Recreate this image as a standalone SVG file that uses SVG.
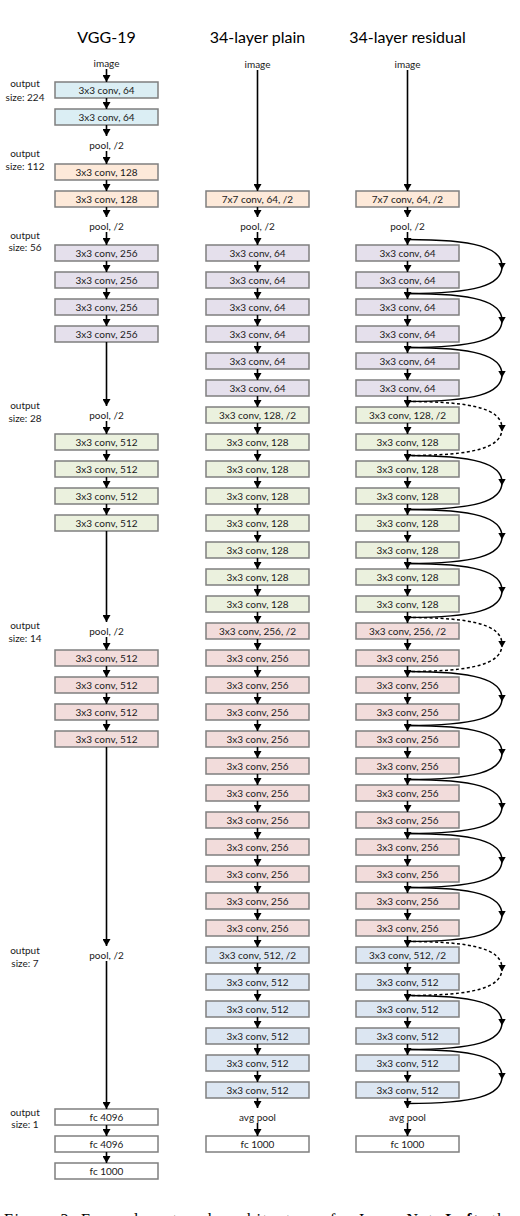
<svg xmlns="http://www.w3.org/2000/svg" width="520" height="1216" viewBox="0 0 520 1216">
<style>
.title{font-family:Lato,"Liberation Sans",sans-serif;font-size:16px;text-anchor:middle;fill:#000}
.t{font-family:Lato,"Liberation Sans",sans-serif;font-size:10px;text-anchor:middle;fill:#1a1a1a}
.o{font-family:Lato,"Liberation Sans",sans-serif;font-size:10px;text-anchor:middle;fill:#1a1a1a}
.b{stroke:#7f7f7f;stroke-width:1.5}
.w{fill:#ffffff}.c64{fill:#dbeef4}.c128{fill:#fde9d9}.c256{fill:#e5e0ec}.cg{fill:#ebf1de}.cp{fill:#f2dcdb}.cb{fill:#dce6f2}
.a{stroke:#000;stroke-width:1.6;fill:none;marker-end:url(#ah)}
.s{stroke:#000;stroke-width:1.5;fill:none;marker-mid:url(#am)}
.d{stroke-dasharray:3 2.5}
.cap{font-family:"Liberation Serif",serif;font-size:16px;fill:#000}
</style>
<defs>
<marker id="ah" markerUnits="userSpaceOnUse" markerWidth="8" markerHeight="8" refX="7" refY="4" orient="auto"><path d="M0,0 L7,4 L0,8 z" fill="#000"/></marker>
<marker id="am" markerUnits="userSpaceOnUse" markerWidth="8" markerHeight="8" refX="4" refY="4" orient="auto"><path d="M0,0 L7,4 L0,8 z" fill="#000"/></marker>
</defs>

<g id="titles">
<text class="title" x="106.5" y="43">VGG-19</text>
<text class="title" x="257.5" y="43">34-layer plain</text>
<text class="title" x="407.5" y="43">34-layer residual</text>
</g>

<g id="output-sizes">
<text class="o" x="25" y="86.5">output</text><text class="o" x="25" y="100.5">size: 224</text>
<text class="o" x="25" y="156.5">output</text><text class="o" x="25" y="169.5">size: 112</text>
<text class="o" x="25" y="238.5">output</text><text class="o" x="25" y="250.5">size: 56</text>
<text class="o" x="25" y="408.5">output</text><text class="o" x="25" y="421.5">size: 28</text>
<text class="o" x="25" y="628.5">output</text><text class="o" x="25" y="641.5">size: 14</text>
<text class="o" x="25" y="953.5">output</text><text class="o" x="25" y="966.5">size: 7</text>
<text class="o" x="25" y="1115.5">output</text><text class="o" x="25" y="1127.5">size: 1</text>
</g>

<g id="vgg19">
<g id="vgg-image"><text class="t" x="106.5" y="66.5">image</text></g>
<g id="vgg-c1"><rect class="b c64" x="55" y="82" width="103" height="16"/><text class="t" x="106.5" y="93.5">3x3 conv, 64</text></g>
<g id="vgg-c2"><rect class="b c64" x="55" y="109" width="103" height="16"/><text class="t" x="106.5" y="120.5">3x3 conv, 64</text></g>
<g id="vgg-p1"><text class="t" x="106.5" y="148.5">pool, /2</text></g>
<g id="vgg-c3"><rect class="b c128" x="55" y="164" width="103" height="16"/><text class="t" x="106.5" y="175.5">3x3 conv, 128</text></g>
<g id="vgg-c4"><rect class="b c128" x="55" y="191" width="103" height="16"/><text class="t" x="106.5" y="202.5">3x3 conv, 128</text></g>
<g id="vgg-p2"><text class="t" x="106.5" y="229.5">pool, /2</text></g>
<g id="vgg-c5"><rect class="b c256" x="55" y="245" width="103" height="16"/><text class="t" x="106.5" y="256.5">3x3 conv, 256</text></g>
<g id="vgg-c6"><rect class="b c256" x="55" y="272" width="103" height="16"/><text class="t" x="106.5" y="283.5">3x3 conv, 256</text></g>
<g id="vgg-c7"><rect class="b c256" x="55" y="299" width="103" height="16"/><text class="t" x="106.5" y="310.5">3x3 conv, 256</text></g>
<g id="vgg-c8"><rect class="b c256" x="55" y="326" width="103" height="16"/><text class="t" x="106.5" y="337.5">3x3 conv, 256</text></g>
<g id="vgg-p3"><text class="t" x="106.5" y="418.5">pool, /2</text></g>
<g id="vgg-c9"><rect class="b cg" x="55" y="434" width="103" height="16"/><text class="t" x="106.5" y="445.5">3x3 conv, 512</text></g>
<g id="vgg-c10"><rect class="b cg" x="55" y="461" width="103" height="16"/><text class="t" x="106.5" y="472.5">3x3 conv, 512</text></g>
<g id="vgg-c11"><rect class="b cg" x="55" y="488" width="103" height="16"/><text class="t" x="106.5" y="499.5">3x3 conv, 512</text></g>
<g id="vgg-c12"><rect class="b cg" x="55" y="515" width="103" height="16"/><text class="t" x="106.5" y="526.5">3x3 conv, 512</text></g>
<g id="vgg-p4"><text class="t" x="106.5" y="634.5">pool, /2</text></g>
<g id="vgg-c13"><rect class="b cp" x="55" y="650" width="103" height="16"/><text class="t" x="106.5" y="661.5">3x3 conv, 512</text></g>
<g id="vgg-c14"><rect class="b cp" x="55" y="677" width="103" height="16"/><text class="t" x="106.5" y="688.5">3x3 conv, 512</text></g>
<g id="vgg-c15"><rect class="b cp" x="55" y="704" width="103" height="16"/><text class="t" x="106.5" y="715.5">3x3 conv, 512</text></g>
<g id="vgg-c16"><rect class="b cp" x="55" y="731" width="103" height="16"/><text class="t" x="106.5" y="742.5">3x3 conv, 512</text></g>
<g id="vgg-p5"><text class="t" x="106.5" y="958.5">pool, /2</text></g>
<g id="vgg-fc1"><rect class="b w" x="55" y="1109" width="103" height="16"/><text class="t" x="106.5" y="1120.5">fc 4096</text></g>
<g id="vgg-fc2"><rect class="b w" x="55" y="1136" width="103" height="16"/><text class="t" x="106.5" y="1147.5">fc 4096</text></g>
<g id="vgg-fc3"><rect class="b w" x="55" y="1163" width="103" height="16"/><text class="t" x="106.5" y="1174.5">fc 1000</text></g>
</g>

<g id="plain">
<g id="pl-image"><text class="t" x="257.5" y="67.5">image</text></g>
<g id="pl-c0"><rect class="b c128" x="206" y="191" width="103" height="16"/><text class="t" x="257.5" y="202.5">7x7 conv, 64, /2</text></g>
<g id="pl-pool"><text class="t" x="257.5" y="229.5">pool, /2</text></g>
<g id="pl-1"><rect class="b c256" x="206" y="245" width="103" height="16"/><text class="t" x="257.5" y="256.5">3x3 conv, 64</text></g>
<g id="pl-2"><rect class="b c256" x="206" y="272" width="103" height="16"/><text class="t" x="257.5" y="283.5">3x3 conv, 64</text></g>
<g id="pl-3"><rect class="b c256" x="206" y="299" width="103" height="16"/><text class="t" x="257.5" y="310.5">3x3 conv, 64</text></g>
<g id="pl-4"><rect class="b c256" x="206" y="326" width="103" height="16"/><text class="t" x="257.5" y="337.5">3x3 conv, 64</text></g>
<g id="pl-5"><rect class="b c256" x="206" y="353" width="103" height="16"/><text class="t" x="257.5" y="364.5">3x3 conv, 64</text></g>
<g id="pl-6"><rect class="b c256" x="206" y="380" width="103" height="16"/><text class="t" x="257.5" y="391.5">3x3 conv, 64</text></g>
<g id="pl-7"><rect class="b cg" x="206" y="407" width="103" height="16"/><text class="t" x="257.5" y="418.5">3x3 conv, 128, /2</text></g>
<g id="pl-8"><rect class="b cg" x="206" y="434" width="103" height="16"/><text class="t" x="257.5" y="445.5">3x3 conv, 128</text></g>
<g id="pl-9"><rect class="b cg" x="206" y="461" width="103" height="16"/><text class="t" x="257.5" y="472.5">3x3 conv, 128</text></g>
<g id="pl-10"><rect class="b cg" x="206" y="488" width="103" height="16"/><text class="t" x="257.5" y="499.5">3x3 conv, 128</text></g>
<g id="pl-11"><rect class="b cg" x="206" y="515" width="103" height="16"/><text class="t" x="257.5" y="526.5">3x3 conv, 128</text></g>
<g id="pl-12"><rect class="b cg" x="206" y="542" width="103" height="16"/><text class="t" x="257.5" y="553.5">3x3 conv, 128</text></g>
<g id="pl-13"><rect class="b cg" x="206" y="569" width="103" height="16"/><text class="t" x="257.5" y="580.5">3x3 conv, 128</text></g>
<g id="pl-14"><rect class="b cg" x="206" y="596" width="103" height="16"/><text class="t" x="257.5" y="607.5">3x3 conv, 128</text></g>
<g id="pl-15"><rect class="b cp" x="206" y="623" width="103" height="16"/><text class="t" x="257.5" y="634.5">3x3 conv, 256, /2</text></g>
<g id="pl-16"><rect class="b cp" x="206" y="650" width="103" height="16"/><text class="t" x="257.5" y="661.5">3x3 conv, 256</text></g>
<g id="pl-17"><rect class="b cp" x="206" y="677" width="103" height="16"/><text class="t" x="257.5" y="688.5">3x3 conv, 256</text></g>
<g id="pl-18"><rect class="b cp" x="206" y="704" width="103" height="16"/><text class="t" x="257.5" y="715.5">3x3 conv, 256</text></g>
<g id="pl-19"><rect class="b cp" x="206" y="731" width="103" height="16"/><text class="t" x="257.5" y="742.5">3x3 conv, 256</text></g>
<g id="pl-20"><rect class="b cp" x="206" y="758" width="103" height="16"/><text class="t" x="257.5" y="769.5">3x3 conv, 256</text></g>
<g id="pl-21"><rect class="b cp" x="206" y="785" width="103" height="16"/><text class="t" x="257.5" y="796.5">3x3 conv, 256</text></g>
<g id="pl-22"><rect class="b cp" x="206" y="812" width="103" height="16"/><text class="t" x="257.5" y="823.5">3x3 conv, 256</text></g>
<g id="pl-23"><rect class="b cp" x="206" y="839" width="103" height="16"/><text class="t" x="257.5" y="850.5">3x3 conv, 256</text></g>
<g id="pl-24"><rect class="b cp" x="206" y="866" width="103" height="16"/><text class="t" x="257.5" y="877.5">3x3 conv, 256</text></g>
<g id="pl-25"><rect class="b cp" x="206" y="893" width="103" height="16"/><text class="t" x="257.5" y="904.5">3x3 conv, 256</text></g>
<g id="pl-26"><rect class="b cp" x="206" y="920" width="103" height="16"/><text class="t" x="257.5" y="931.5">3x3 conv, 256</text></g>
<g id="pl-27"><rect class="b cb" x="206" y="947" width="103" height="16"/><text class="t" x="257.5" y="958.5">3x3 conv, 512, /2</text></g>
<g id="pl-28"><rect class="b cb" x="206" y="974" width="103" height="16"/><text class="t" x="257.5" y="985.5">3x3 conv, 512</text></g>
<g id="pl-29"><rect class="b cb" x="206" y="1001" width="103" height="16"/><text class="t" x="257.5" y="1012.5">3x3 conv, 512</text></g>
<g id="pl-30"><rect class="b cb" x="206" y="1028" width="103" height="16"/><text class="t" x="257.5" y="1039.5">3x3 conv, 512</text></g>
<g id="pl-31"><rect class="b cb" x="206" y="1055" width="103" height="16"/><text class="t" x="257.5" y="1066.5">3x3 conv, 512</text></g>
<g id="pl-32"><rect class="b cb" x="206" y="1082" width="103" height="16"/><text class="t" x="257.5" y="1093.5">3x3 conv, 512</text></g>
<g id="pl-avg"><text class="t" x="257.5" y="1120.5">avg pool</text></g>
<g id="pl-fc"><rect class="b w" x="206" y="1136" width="103" height="16"/><text class="t" x="257.5" y="1147.5">fc 1000</text></g>
</g>

<g id="residual">
<g id="rs-image"><text class="t" x="407.5" y="67.5">image</text></g>
<g id="rs-c0"><rect class="b c128" x="356" y="191" width="103" height="16"/><text class="t" x="407.5" y="202.5">7x7 conv, 64, /2</text></g>
<g id="rs-pool"><text class="t" x="407.5" y="229.5">pool, /2</text></g>
<g id="rs-1"><rect class="b c256" x="356" y="245" width="103" height="16"/><text class="t" x="407.5" y="256.5">3x3 conv, 64</text></g>
<g id="rs-2"><rect class="b c256" x="356" y="272" width="103" height="16"/><text class="t" x="407.5" y="283.5">3x3 conv, 64</text></g>
<g id="rs-3"><rect class="b c256" x="356" y="299" width="103" height="16"/><text class="t" x="407.5" y="310.5">3x3 conv, 64</text></g>
<g id="rs-4"><rect class="b c256" x="356" y="326" width="103" height="16"/><text class="t" x="407.5" y="337.5">3x3 conv, 64</text></g>
<g id="rs-5"><rect class="b c256" x="356" y="353" width="103" height="16"/><text class="t" x="407.5" y="364.5">3x3 conv, 64</text></g>
<g id="rs-6"><rect class="b c256" x="356" y="380" width="103" height="16"/><text class="t" x="407.5" y="391.5">3x3 conv, 64</text></g>
<g id="rs-7"><rect class="b cg" x="356" y="407" width="103" height="16"/><text class="t" x="407.5" y="418.5">3x3 conv, 128, /2</text></g>
<g id="rs-8"><rect class="b cg" x="356" y="434" width="103" height="16"/><text class="t" x="407.5" y="445.5">3x3 conv, 128</text></g>
<g id="rs-9"><rect class="b cg" x="356" y="461" width="103" height="16"/><text class="t" x="407.5" y="472.5">3x3 conv, 128</text></g>
<g id="rs-10"><rect class="b cg" x="356" y="488" width="103" height="16"/><text class="t" x="407.5" y="499.5">3x3 conv, 128</text></g>
<g id="rs-11"><rect class="b cg" x="356" y="515" width="103" height="16"/><text class="t" x="407.5" y="526.5">3x3 conv, 128</text></g>
<g id="rs-12"><rect class="b cg" x="356" y="542" width="103" height="16"/><text class="t" x="407.5" y="553.5">3x3 conv, 128</text></g>
<g id="rs-13"><rect class="b cg" x="356" y="569" width="103" height="16"/><text class="t" x="407.5" y="580.5">3x3 conv, 128</text></g>
<g id="rs-14"><rect class="b cg" x="356" y="596" width="103" height="16"/><text class="t" x="407.5" y="607.5">3x3 conv, 128</text></g>
<g id="rs-15"><rect class="b cp" x="356" y="623" width="103" height="16"/><text class="t" x="407.5" y="634.5">3x3 conv, 256, /2</text></g>
<g id="rs-16"><rect class="b cp" x="356" y="650" width="103" height="16"/><text class="t" x="407.5" y="661.5">3x3 conv, 256</text></g>
<g id="rs-17"><rect class="b cp" x="356" y="677" width="103" height="16"/><text class="t" x="407.5" y="688.5">3x3 conv, 256</text></g>
<g id="rs-18"><rect class="b cp" x="356" y="704" width="103" height="16"/><text class="t" x="407.5" y="715.5">3x3 conv, 256</text></g>
<g id="rs-19"><rect class="b cp" x="356" y="731" width="103" height="16"/><text class="t" x="407.5" y="742.5">3x3 conv, 256</text></g>
<g id="rs-20"><rect class="b cp" x="356" y="758" width="103" height="16"/><text class="t" x="407.5" y="769.5">3x3 conv, 256</text></g>
<g id="rs-21"><rect class="b cp" x="356" y="785" width="103" height="16"/><text class="t" x="407.5" y="796.5">3x3 conv, 256</text></g>
<g id="rs-22"><rect class="b cp" x="356" y="812" width="103" height="16"/><text class="t" x="407.5" y="823.5">3x3 conv, 256</text></g>
<g id="rs-23"><rect class="b cp" x="356" y="839" width="103" height="16"/><text class="t" x="407.5" y="850.5">3x3 conv, 256</text></g>
<g id="rs-24"><rect class="b cp" x="356" y="866" width="103" height="16"/><text class="t" x="407.5" y="877.5">3x3 conv, 256</text></g>
<g id="rs-25"><rect class="b cp" x="356" y="893" width="103" height="16"/><text class="t" x="407.5" y="904.5">3x3 conv, 256</text></g>
<g id="rs-26"><rect class="b cp" x="356" y="920" width="103" height="16"/><text class="t" x="407.5" y="931.5">3x3 conv, 256</text></g>
<g id="rs-27"><rect class="b cb" x="356" y="947" width="103" height="16"/><text class="t" x="407.5" y="958.5">3x3 conv, 512, /2</text></g>
<g id="rs-28"><rect class="b cb" x="356" y="974" width="103" height="16"/><text class="t" x="407.5" y="985.5">3x3 conv, 512</text></g>
<g id="rs-29"><rect class="b cb" x="356" y="1001" width="103" height="16"/><text class="t" x="407.5" y="1012.5">3x3 conv, 512</text></g>
<g id="rs-30"><rect class="b cb" x="356" y="1028" width="103" height="16"/><text class="t" x="407.5" y="1039.5">3x3 conv, 512</text></g>
<g id="rs-31"><rect class="b cb" x="356" y="1055" width="103" height="16"/><text class="t" x="407.5" y="1066.5">3x3 conv, 512</text></g>
<g id="rs-32"><rect class="b cb" x="356" y="1082" width="103" height="16"/><text class="t" x="407.5" y="1093.5">3x3 conv, 512</text></g>
<g id="rs-avg"><text class="t" x="407.5" y="1120.5">avg pool</text></g>
<g id="rs-fc"><rect class="b w" x="356" y="1136" width="103" height="16"/><text class="t" x="407.5" y="1147.5">fc 1000</text></g>
</g>

<g id="connectors">
<g id="vgg-arrows">
<path class="a" d="M106.5,69 V82"/><path class="a" d="M106.5,98 V109"/><path class="a" d="M106.5,125 V136"/>
<path class="a" d="M106.5,151 V164"/><path class="a" d="M106.5,180 V191"/><path class="a" d="M106.5,207 V217"/>
<path class="a" d="M106.5,232 V245"/><path class="a" d="M106.5,261 V272"/><path class="a" d="M106.5,288 V299"/><path class="a" d="M106.5,315 V326"/>
<path class="a" d="M106.5,342 V406"/><path class="a" d="M106.5,421 V434"/>
<path class="a" d="M106.5,450 V461"/><path class="a" d="M106.5,477 V488"/><path class="a" d="M106.5,504 V515"/>
<path class="a" d="M106.5,531 V622"/><path class="a" d="M106.5,637 V650"/>
<path class="a" d="M106.5,666 V677"/><path class="a" d="M106.5,693 V704"/><path class="a" d="M106.5,720 V731"/>
<path class="a" d="M106.5,747 V946"/><path class="a" d="M106.5,961 V1109"/>
<path class="a" d="M106.5,1125 V1136"/><path class="a" d="M106.5,1152 V1163"/>
</g>
<g id="plain-arrows">
<path class="a" d="M257.5,70 V191"/><path class="a" d="M257.5,207 V217"/><path class="a" d="M257.5,232 V245"/>
<path class="a" d="M257.5,261 V272"/><path class="a" d="M257.5,288 V299"/><path class="a" d="M257.5,315 V326"/><path class="a" d="M257.5,342 V353"/>
<path class="a" d="M257.5,369 V380"/><path class="a" d="M257.5,396 V407"/><path class="a" d="M257.5,423 V434"/><path class="a" d="M257.5,450 V461"/>
<path class="a" d="M257.5,477 V488"/><path class="a" d="M257.5,504 V515"/><path class="a" d="M257.5,531 V542"/><path class="a" d="M257.5,558 V569"/>
<path class="a" d="M257.5,585 V596"/><path class="a" d="M257.5,612 V623"/><path class="a" d="M257.5,639 V650"/><path class="a" d="M257.5,666 V677"/>
<path class="a" d="M257.5,693 V704"/><path class="a" d="M257.5,720 V731"/><path class="a" d="M257.5,747 V758"/><path class="a" d="M257.5,774 V785"/>
<path class="a" d="M257.5,801 V812"/><path class="a" d="M257.5,828 V839"/><path class="a" d="M257.5,855 V866"/><path class="a" d="M257.5,882 V893"/>
<path class="a" d="M257.5,909 V920"/><path class="a" d="M257.5,936 V947"/><path class="a" d="M257.5,963 V974"/><path class="a" d="M257.5,990 V1001"/>
<path class="a" d="M257.5,1017 V1028"/><path class="a" d="M257.5,1044 V1055"/><path class="a" d="M257.5,1071 V1082"/>
<path class="a" d="M257.5,1098 V1108"/><path class="a" d="M257.5,1123 V1136"/>
</g>
<g id="residual-arrows">
<path class="a" d="M407.5,70 V191"/><path class="a" d="M407.5,207 V217"/><path class="a" d="M407.5,232 V245"/>
<path class="a" d="M407.5,261 V272"/><path class="a" d="M407.5,288 V299"/><path class="a" d="M407.5,315 V326"/><path class="a" d="M407.5,342 V353"/>
<path class="a" d="M407.5,369 V380"/><path class="a" d="M407.5,396 V407"/><path class="a" d="M407.5,423 V434"/><path class="a" d="M407.5,450 V461"/>
<path class="a" d="M407.5,477 V488"/><path class="a" d="M407.5,504 V515"/><path class="a" d="M407.5,531 V542"/><path class="a" d="M407.5,558 V569"/>
<path class="a" d="M407.5,585 V596"/><path class="a" d="M407.5,612 V623"/><path class="a" d="M407.5,639 V650"/><path class="a" d="M407.5,666 V677"/>
<path class="a" d="M407.5,693 V704"/><path class="a" d="M407.5,720 V731"/><path class="a" d="M407.5,747 V758"/><path class="a" d="M407.5,774 V785"/>
<path class="a" d="M407.5,801 V812"/><path class="a" d="M407.5,828 V839"/><path class="a" d="M407.5,855 V866"/><path class="a" d="M407.5,882 V893"/>
<path class="a" d="M407.5,909 V920"/><path class="a" d="M407.5,936 V947"/><path class="a" d="M407.5,963 V974"/><path class="a" d="M407.5,990 V1001"/>
<path class="a" d="M407.5,1017 V1028"/><path class="a" d="M407.5,1044 V1055"/><path class="a" d="M407.5,1071 V1082"/>
<path class="a" d="M407.5,1098 V1108"/><path class="a" d="M407.5,1123 V1136"/>
</g>
<g id="skips">
<path class="s" d="M407.5,239.5 C475,239.5 502,247.5 502,266.5 C502,285.5 475,293.5 407.5,293.5"/>
<path class="s" d="M407.5,293.5 C475,293.5 502,301.5 502,320.5 C502,339.5 475,347.5 407.5,347.5"/>
<path class="s" d="M407.5,347.5 C475,347.5 502,355.5 502,374.5 C502,393.5 475,401.5 407.5,401.5"/>
<path class="s d" d="M407.5,401.5 C475,401.5 502,409.5 502,428.5 C502,447.5 475,455.5 407.5,455.5"/>
<path class="s" d="M407.5,455.5 C475,455.5 502,463.5 502,482.5 C502,501.5 475,509.5 407.5,509.5"/>
<path class="s" d="M407.5,509.5 C475,509.5 502,517.5 502,536.5 C502,555.5 475,563.5 407.5,563.5"/>
<path class="s" d="M407.5,563.5 C475,563.5 502,571.5 502,590.5 C502,609.5 475,617.5 407.5,617.5"/>
<path class="s d" d="M407.5,617.5 C475,617.5 502,625.5 502,644.5 C502,663.5 475,671.5 407.5,671.5"/>
<path class="s" d="M407.5,671.5 C475,671.5 502,679.5 502,698.5 C502,717.5 475,725.5 407.5,725.5"/>
<path class="s" d="M407.5,725.5 C475,725.5 502,733.5 502,752.5 C502,771.5 475,779.5 407.5,779.5"/>
<path class="s" d="M407.5,779.5 C475,779.5 502,787.5 502,806.5 C502,825.5 475,833.5 407.5,833.5"/>
<path class="s" d="M407.5,833.5 C475,833.5 502,841.5 502,860.5 C502,879.5 475,887.5 407.5,887.5"/>
<path class="s" d="M407.5,887.5 C475,887.5 502,895.5 502,914.5 C502,933.5 475,941.5 407.5,941.5"/>
<path class="s d" d="M407.5,941.5 C475,941.5 502,949.5 502,968.5 C502,987.5 475,995.5 407.5,995.5"/>
<path class="s" d="M407.5,995.5 C475,995.5 502,1003.5 502,1022.5 C502,1041.5 475,1049.5 407.5,1049.5"/>
<path class="s" d="M407.5,1049.5 C475,1049.5 502,1057.5 502,1076.5 C502,1095.5 475,1103.5 407.5,1103.5"/>
</g>
</g>

<g id="caption">
<text class="cap" x="4" y="1225" textLength="510" lengthAdjust="spacing">Figure 3. Example network architectures for ImageNet. <tspan font-weight="bold">Left</tspan>: the</text>
</g>
</svg>
